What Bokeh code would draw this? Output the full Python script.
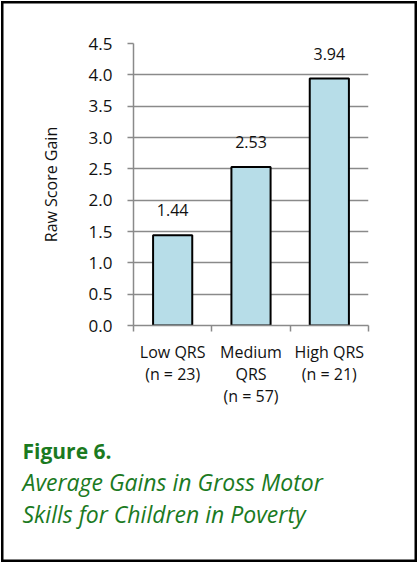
from bokeh.plotting import figure
from bokeh.models import (ColumnDataSource, LabelSet, Range1d, Title,
                          LinearAxis, FixedTicker, PrintfTickFormatter)
from bokeh.core.properties import value
from bokeh.embed import file_html
from bokeh.resources import INLINE

# ---- data ----
categories = ["Low QRS\n(n = 23)", "Medium\nQRS\n(n = 57)", "High QRS\n(n = 21)"]
gains = [1.44, 2.53, 3.94]
value_labels = ["1.44", "2.53", "3.94"]
y_ticks = [0.0, 0.5, 1.0, 1.5, 2.0, 2.5, 3.0, 3.5, 4.0, 4.5]
y_axis_title = "Raw Score Gain"
caption_title = "Figure 6."
caption_lines = ["Average Gains in Gross Motor", "Skills for Children in Poverty"]

FONT = "Open Sans"
GRAY = "#8a8a8a"
GREEN = "#1b7a1f"
TXT = "#111111"

n = len(categories)
centers = [i + 0.5 for i in range(n)]
bounds = list(range(n + 1))
src = ColumnDataSource(dict(x=centers, val=gains, lab=value_labels))

p = figure(width=418, height=563, output_backend="svg", toolbar_location=None,
           x_range=Range1d(0, n), y_range=Range1d(0, 4.5),
           x_axis_location=None, y_axis_location=None,
           min_border_left=133, min_border_right=50, min_border_top=43, min_border_bottom=238)
p.outline_line_color = None
p.background_fill_color = "white"
p.border_fill_color = None
BORDER = "inset 0 0 0 1px white, inset 0 0 0 3.5px black"
p.styles = {"box-shadow": BORDER, "background-color": "white"}
p.stylesheets = [":host { box-shadow: %s; }" % BORDER]

# bars
p.vbar(x="x", top="val", width=0.5, source=src, fill_color="#b7dde8",
       line_color="black", line_width=2)

# y axis
yax = LinearAxis(ticker=FixedTicker(ticks=y_ticks), formatter=PrintfTickFormatter(format="%.1f"))
yax.axis_line_color = GRAY
yax.axis_line_width = 1.5
yax.major_tick_line_color = GRAY
yax.major_tick_line_width = 1.5
yax.major_tick_out = 6
yax.major_tick_in = 0
yax.minor_tick_line_color = None
yax.major_label_text_font = FONT
yax.major_label_text_font_size = "17px"
yax.major_label_text_color = TXT
yax.major_label_standoff = 15
yax.axis_label = y_axis_title
yax.axis_label_text_font = FONT
yax.axis_label_text_font_size = "16px"
yax.axis_label_text_font_style = "normal"
yax.axis_label_text_color = TXT
yax.axis_label_standoff = 24
p.add_layout(yax, "left")

# x axis: labels at category centres, tick marks at category boundaries
xax = LinearAxis(ticker=FixedTicker(ticks=centers, minor_ticks=bounds),
                 major_label_overrides={c: lab for c, lab in zip(centers, categories)})
xax.axis_line_color = GRAY
xax.axis_line_width = 1.5
xax.major_tick_line_color = None
xax.major_tick_out = 0
xax.major_tick_in = 0
xax.minor_tick_line_color = GRAY
xax.minor_tick_line_width = 1.5
xax.minor_tick_out = 6
xax.minor_tick_in = 0
xax.major_label_text_font = FONT
xax.major_label_text_font_size = "16px"
xax.major_label_text_color = TXT
xax.major_label_text_line_height = 1.0
xax.major_label_standoff = 9
p.add_layout(xax, "below")

# grid
p.xgrid.grid_line_color = None
p.ygrid.ticker = FixedTicker(ticks=y_ticks)
p.ygrid.grid_line_color = GRAY
p.ygrid.grid_line_width = 1.5

# value labels
labels = LabelSet(x="x", y="val", text="lab", source=src, text_align="center",
                  text_baseline="alphabetic", y_offset=19, text_font=value(FONT),
                  text_font_size=value("16px"), text_color=TXT)
p.add_layout(labels)

# caption (titles stacked below the x axis)
p.add_layout(Title(text=caption_title, align="left", offset=-111, standoff=50,
                   text_font=FONT, text_font_size="21px", text_font_style="bold",
                   text_color=GREEN), "below")
p.add_layout(Title(text="\n".join(caption_lines), align="left", offset=-111, standoff=-52,
                   text_font=FONT, text_font_size="23px", text_font_style="italic",
                   text_line_height=1.03, text_color=GREEN), "below")

open("out.html", "w").write(file_html(p, INLINE))
